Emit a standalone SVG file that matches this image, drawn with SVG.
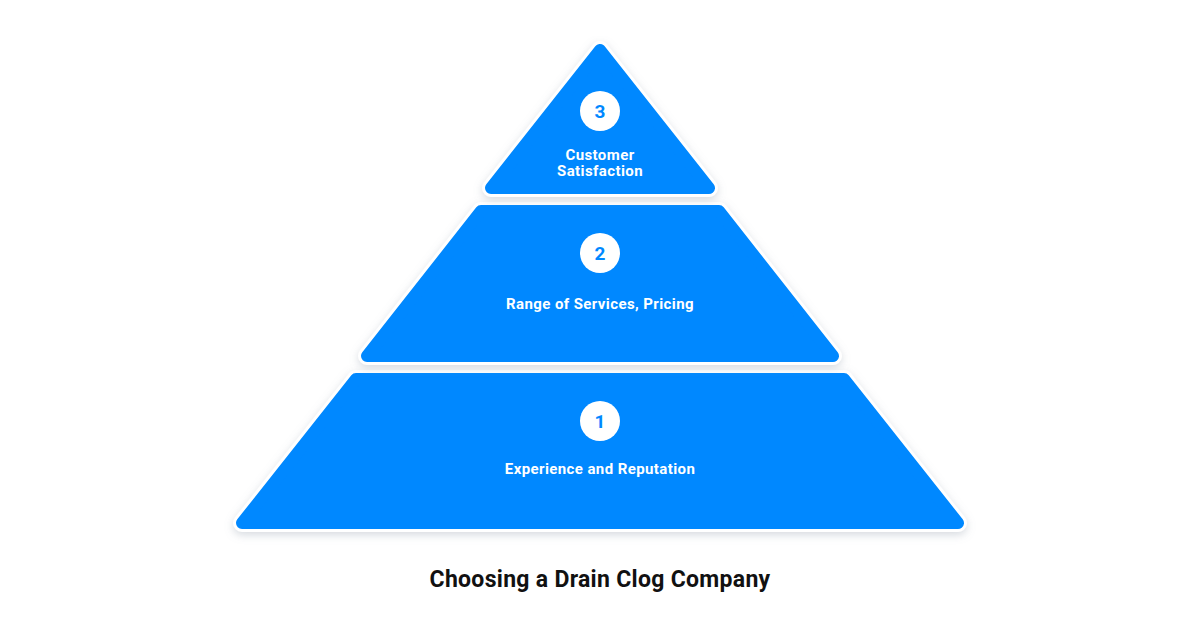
<svg xmlns="http://www.w3.org/2000/svg" width="1200" height="630" viewBox="0 0 1200 630">
<defs>
<filter id="sh" x="-10%" y="-10%" width="120%" height="130%">
<feDropShadow dx="0" dy="3" stdDeviation="4" flood-color="#8a94a6" flood-opacity="0.35"/>
</filter>
<style>
.out{fill:#ffffff;stroke:#ffffff;stroke-width:18;stroke-linejoin:round;filter:url(#sh)}
.tier{fill:#0088ff;stroke:#0088ff;stroke-width:12;stroke-linejoin:round}
.badge{fill:#ffffff}
.num{font-family:Roboto,"Liberation Sans",sans-serif;font-weight:700;font-size:19px;fill:#0088ff;text-anchor:middle}
.lbl{font-family:Roboto,"Liberation Sans",sans-serif;font-weight:700;font-size:15px;letter-spacing:0.4px;fill:#ffffff;text-anchor:middle}
.title{font-family:Roboto,"Liberation Sans",sans-serif;font-weight:700;font-size:23px;letter-spacing:0.3px;fill:#111111;text-anchor:middle}
</style>
</defs>
<rect width="1200" height="630" fill="#ffffff"/>
<g id="tier1">
<polygon class="out" points="356,379 844,379 958,523 242,523"/>
<polygon class="tier" points="356,379 844,379 958,523 242,523"/>
<circle class="badge" cx="600" cy="421" r="20"/>
<text class="num" x="600" y="428">1</text>
<text class="lbl" x="600" y="474">Experience and Reputation</text>
</g>
<g id="tier2">
<polygon class="out" points="481,211 719,211 833,356 367,356"/>
<polygon class="tier" points="481,211 719,211 833,356 367,356"/>
<circle class="badge" cx="600" cy="253" r="20"/>
<text class="num" x="600" y="260">2</text>
<text class="lbl" x="600" y="309">Range of Services, Pricing</text>
</g>
<g id="tier3">
<polygon class="out" points="600,50 709,188 491,188"/>
<polygon class="tier" points="600,50 709,188 491,188"/>
<circle class="badge" cx="600" cy="111" r="20"/>
<text class="num" x="600" y="118">3</text>
<text class="lbl" x="600" y="160">Customer</text>
<text class="lbl" x="600" y="176">Satisfaction</text>
</g>
<g id="connectors"></g>
<text class="title" x="600" y="587">Choosing a Drain Clog Company</text>
</svg>
